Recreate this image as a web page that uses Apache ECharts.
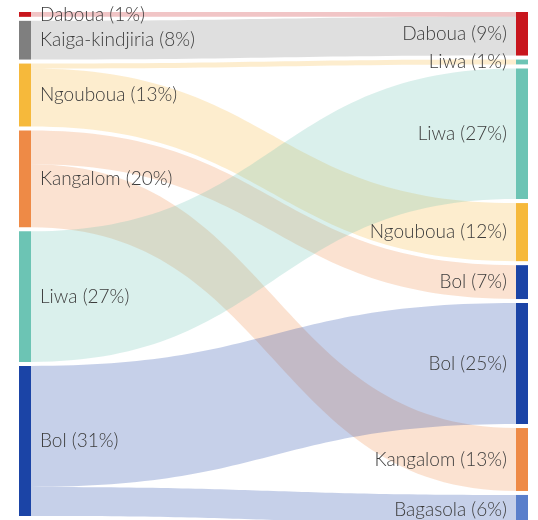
<!DOCTYPE html>
<html>
<head>
<meta charset="utf-8">
<script src="https://cdn.jsdelivr.net/npm/echarts@6/dist/echarts.min.js"></script>
<style>
  html, body { margin: 0; padding: 0; background: #fff; }
  #grafico { width: 538px; height: 520px; }
</style>
</head>
<body>
<div id="grafico"></div>
<script>
// Nodos de origen (izquierda) y destino (derecha), en % del total
const origenNombres = ["Daboua", "Kaiga-kindjiria", "Ngouboua", "Kangalom", "Liwa", "Bol"];
const origenPct = [1, 8, 13, 20, 27, 31];
const origenColores = ["#c8161d", "#7f7f7f", "#f6b93b", "#ee8a46", "#6cc4b4", "#1b44a6"];

const destinoNombres = ["Daboua", "Liwa", "Liwa", "Ngouboua", "Bol", "Bol", "Kangalom", "Bagasola"];
const destinoPct = [9, 1, 27, 12, 7, 25, 13, 6];
const destinoColores = ["#c8161d", "#6cc4b4", "#6cc4b4", "#f6b93b", "#1b44a6", "#1b44a6", "#ee8a46", "#5a7fcb"];

// Flujos: índice de origen -> índice de destino
const flujoDesde = [0, 1, 2, 2, 3, 3, 4, 5, 5];
const flujoHasta = [0, 0, 1, 3, 4, 6, 2, 5, 7];
const flujoValor = [1, 8, 1, 12, 7, 13, 27, 25, 6];

document.addEventListener("DOMContentLoaded", () => {
  const chart = echarts.init(document.getElementById("grafico"));

  const nodos = [];
  origenNombres.forEach((n, i) => {
    nodos.push({
      name: "o" + i,
      value: origenPct[i],
      itemStyle: { color: origenColores[i] },
      label: { position: "right", formatter: `${n} (${origenPct[i]}%)` }
    });
  });
  destinoNombres.forEach((n, i) => {
    nodos.push({
      name: "d" + i,
      value: destinoPct[i],
      itemStyle: { color: destinoColores[i] },
      label: { position: "left", formatter: `${n} (${destinoPct[i]}%)` }
    });
  });

  const enlaces = flujoValor.map((v, i) => ({
    source: "o" + flujoDesde[i],
    target: "d" + flujoHasta[i],
    value: v
  }));

  chart.setOption({
    backgroundColor: "#fff",
    animation: false,
    series: [{
      type: "sankey",
      left: 19,
      right: 10,
      top: 12,
      bottom: -4,
      nodeWidth: 12,
      nodeGap: 4,
      layoutIterations: 0,
      nodeAlign: "justify",
      data: nodos,
      links: enlaces,
      label: {
        color: "#3c3c3c",
        fontFamily: "Lato",
        fontWeight: 300,
        fontSize: 19,
        distance: 9
      },
      itemStyle: { borderWidth: 0 },
      lineStyle: { color: "source", opacity: 0.25, curveness: 0.5 },
      emphasis: { disabled: true }
    }]
  });
});
</script>
</body>
</html>
